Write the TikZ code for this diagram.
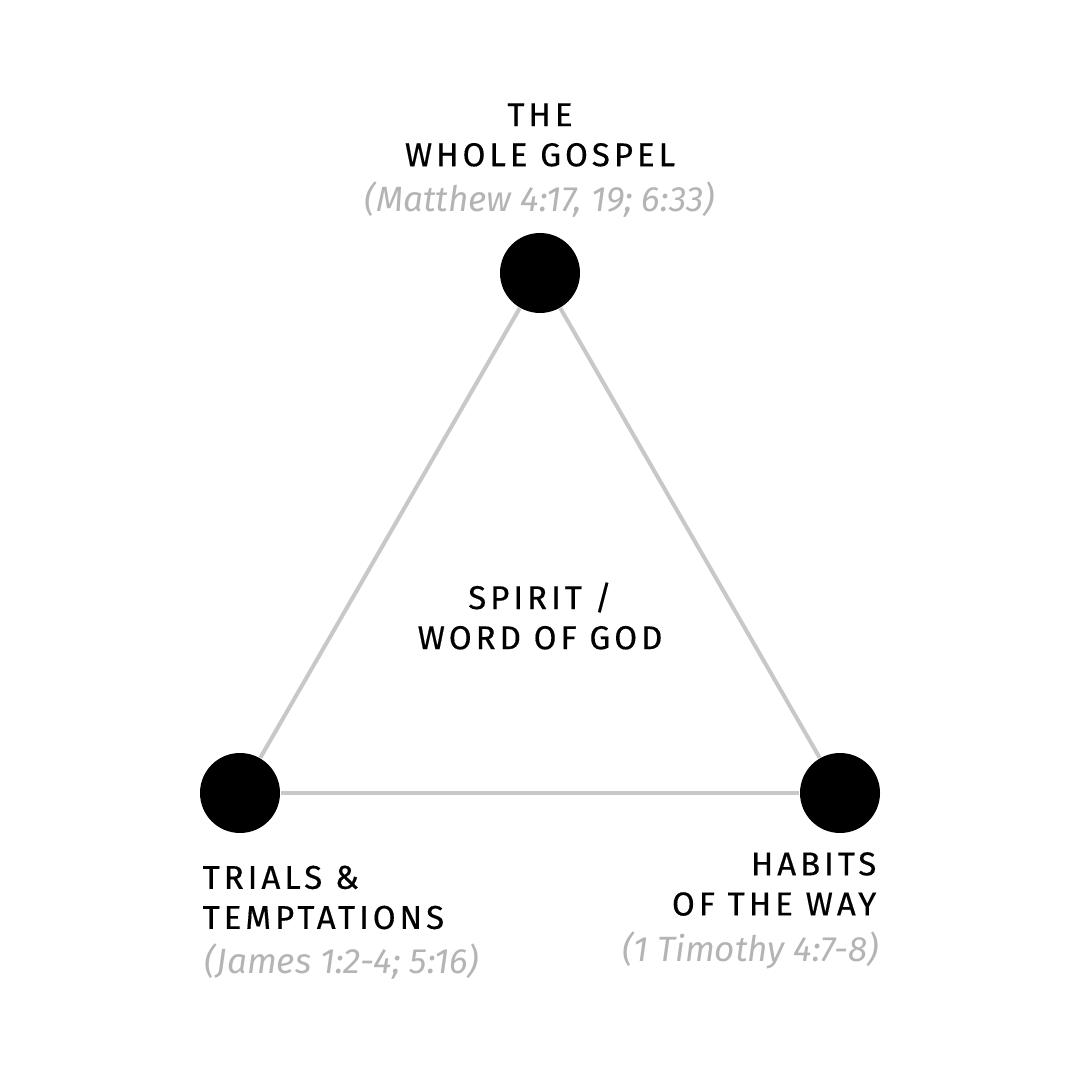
\documentclass[tikz,border=0pt]{standalone}
\usepackage{fontspec}
\setmainfont{Fira Sans}[LetterSpace=12, FakeBold=0.4]
\newfontfamily\reffont{Fira Sans}
\usetikzlibrary{positioning}

\definecolor{edgegray}{HTML}{C8C8C8}
\definecolor{refgray}{HTML}{B4B4B4}

\tikzset{
  vertex/.style={circle, fill=black, minimum size=0.8cm, inner sep=0pt},
  side/.style={edgegray, line width=1.15pt},
  caps/.style={font=\fontsize{9.4}{11.4}\selectfont, inner sep=0pt, text=black},
  ref/.style={font=\reffont\itshape\fontsize{10}{12}\selectfont, inner sep=0pt, text=refgray}
}

\begin{document}
\begin{tikzpicture}
        \useasboundingbox (0,0) rectangle (10.8,10.8);
        \node [vertex] (gospel) at (5.4,8.07) {};
        \node [vertex] (trials) at (2.4,2.87) {};
        \node [vertex] (habits) at (8.4,2.87) {};
        \draw [side] (gospel) -- (trials);
        \draw [side] (gospel) -- (habits);
        \draw [side] (trials) -- (habits);
        \node [caps, align=center] (gospeltxt) at (5.4,9.45) {THE\\WHOLE GOSPEL};
        \node [ref] (gospelref) at (5.4,8.8) {(Matthew 4:17, 19; 6:33)};
        \node [caps, align=center] (spirit) at (5.4,4.64) {SPIRIT /\\WORD OF GOD};
        \node [caps, align=left, anchor=west] (trialstxt) at (2.02,1.825) {TRIALS \&\\TEMPTATIONS};
        \node [ref, anchor=west] (trialsref) at (2.04,1.18) {(James 1:2-4; 5:16)};
        \node [caps, align=right, anchor=east] (habitstxt) at (8.77,1.96) {HABITS\\OF THE WAY};
        \node [ref, anchor=east] (habitsref) at (8.79,1.30) {(1 Timothy 4:7-8)};
\end{tikzpicture}
\end{document}
